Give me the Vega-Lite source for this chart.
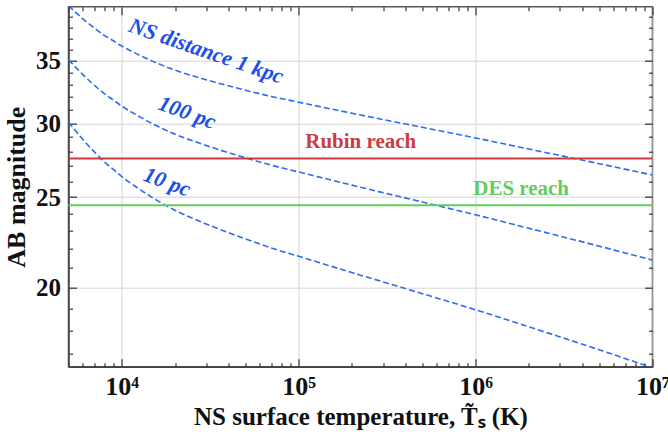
{
  "$schema": "https://vega.github.io/schema/vega-lite/v6.json",
  "width": 584,
  "height": 360,
  "autosize": "none",
  "padding": {"left": 68.5, "top": 6.7, "right": 15.7, "bottom": 71},
  "background": "white",
  "config": {
    "font": "Liberation Serif",
    "view": {"stroke": "#555", "strokeWidth": 1.5},
    "axis": {
      "labelFont": "Liberation Serif",
      "titleFont": "Liberation Serif",
      "labelFontWeight": "bold",
      "titleFontWeight": "bold",
      "labelColor": "#111",
      "titleColor": "#111",
      "domainColor": "#444",
      "domainWidth": 1.5,
      "tickColor": "#333",
      "tickWidth": 1.2,
      "gridColor": "#d4d4d4",
      "gridWidth": 1
    }
  },
  "datasets": {
    "curves": [
      {"T": 5000, "mag": 30.1, "dist": "10 pc"},
      {"T": 6000, "mag": 28.85, "dist": "10 pc"},
      {"T": 7000, "mag": 27.95, "dist": "10 pc"},
      {"T": 8000, "mag": 27.25, "dist": "10 pc"},
      {"T": 9000, "mag": 26.75, "dist": "10 pc"},
      {"T": 10000, "mag": 26.3, "dist": "10 pc"},
      {"T": 12000, "mag": 25.65, "dist": "10 pc"},
      {"T": 15000, "mag": 24.95, "dist": "10 pc"},
      {"T": 20000, "mag": 24.2, "dist": "10 pc"},
      {"T": 30000, "mag": 23.4, "dist": "10 pc"},
      {"T": 50000, "mag": 22.55, "dist": "10 pc"},
      {"T": 70000, "mag": 22.05, "dist": "10 pc"},
      {"T": 100000, "mag": 21.6, "dist": "10 pc"},
      {"T": 200000, "mag": 20.75, "dist": "10 pc"},
      {"T": 500000, "mag": 19.7, "dist": "10 pc"},
      {"T": 1000000, "mag": 18.93, "dist": "10 pc"},
      {"T": 2000000, "mag": 18.15, "dist": "10 pc"},
      {"T": 5000000, "mag": 17.15, "dist": "10 pc"},
      {"T": 10000000, "mag": 16.4, "dist": "10 pc"},
      {"T": 5000, "mag": 35.1, "dist": "100 pc"},
      {"T": 6000, "mag": 33.85, "dist": "100 pc"},
      {"T": 7000, "mag": 32.95, "dist": "100 pc"},
      {"T": 8000, "mag": 32.25, "dist": "100 pc"},
      {"T": 9000, "mag": 31.75, "dist": "100 pc"},
      {"T": 10000, "mag": 31.3, "dist": "100 pc"},
      {"T": 12000, "mag": 30.65, "dist": "100 pc"},
      {"T": 15000, "mag": 29.95, "dist": "100 pc"},
      {"T": 20000, "mag": 29.2, "dist": "100 pc"},
      {"T": 30000, "mag": 28.4, "dist": "100 pc"},
      {"T": 50000, "mag": 27.55, "dist": "100 pc"},
      {"T": 70000, "mag": 27.05, "dist": "100 pc"},
      {"T": 100000, "mag": 26.6, "dist": "100 pc"},
      {"T": 200000, "mag": 25.75, "dist": "100 pc"},
      {"T": 500000, "mag": 24.7, "dist": "100 pc"},
      {"T": 1000000, "mag": 23.93, "dist": "100 pc"},
      {"T": 2000000, "mag": 23.15, "dist": "100 pc"},
      {"T": 5000000, "mag": 22.15, "dist": "100 pc"},
      {"T": 10000000, "mag": 21.4, "dist": "100 pc"},
      {"T": 5000, "mag": 40.1, "dist": "1 kpc"},
      {"T": 6000, "mag": 38.85, "dist": "1 kpc"},
      {"T": 7000, "mag": 37.95, "dist": "1 kpc"},
      {"T": 8000, "mag": 37.25, "dist": "1 kpc"},
      {"T": 9000, "mag": 36.75, "dist": "1 kpc"},
      {"T": 10000, "mag": 36.3, "dist": "1 kpc"},
      {"T": 12000, "mag": 35.65, "dist": "1 kpc"},
      {"T": 15000, "mag": 34.95, "dist": "1 kpc"},
      {"T": 20000, "mag": 34.2, "dist": "1 kpc"},
      {"T": 30000, "mag": 33.4, "dist": "1 kpc"},
      {"T": 50000, "mag": 32.55, "dist": "1 kpc"},
      {"T": 70000, "mag": 32.05, "dist": "1 kpc"},
      {"T": 100000, "mag": 31.6, "dist": "1 kpc"},
      {"T": 200000, "mag": 30.75, "dist": "1 kpc"},
      {"T": 500000, "mag": 29.7, "dist": "1 kpc"},
      {"T": 1000000, "mag": 28.93, "dist": "1 kpc"},
      {"T": 2000000, "mag": 28.15, "dist": "1 kpc"},
      {"T": 5000000, "mag": 27.15, "dist": "1 kpc"},
      {"T": 10000000, "mag": 26.4, "dist": "1 kpc"}
    ],
    "reach": [
      {"survey": "Rubin", "mag": 27.5},
      {"survey": "DES", "mag": 24.5}
    ],
    "reachLabels": [
      {"label": "Rubin reach", "survey": "Rubin", "T": 109000, "mag": 28.25},
      {"label": "DES reach", "survey": "DES", "T": 970000, "mag": 25.15}
    ]
  },
  "layer": [
    {
      "data": {"name": "curves"},
      "mark": {"type": "line", "clip": true, "strokeDash": [6, 3], "strokeWidth": 1.6, "color": "#2c6cf0", "interpolate": "monotone"},
      "encoding": {
        "x": {
          "field": "T", "type": "quantitative",
          "scale": {"type": "log", "domain": [5000, 10000000], "nice": false},
          "axis": {
            "orient": "bottom",
            "title": "NS surface temperature, T̃ₛ (K)",
            "titleFontSize": 25,
            "titlePadding": 1,
            "labelFontSize": 26,
            "labelPadding": 15,
            "labelOverlap": false,
            "labelFlush": false,
            "labelBound": false,
            "values": [5000, 6000, 7000, 8000, 9000, 10000, 20000, 30000, 40000, 50000, 60000, 70000, 80000, 90000, 100000, 200000, 300000, 400000, 500000, 600000, 700000, 800000, 900000, 1000000, 2000000, 3000000, 4000000, 5000000, 6000000, 7000000, 8000000, 9000000, 10000000],
            "labelExpr": "datum.value == 10000 ? '10⁴' : datum.value == 100000 ? '10⁵' : datum.value == 1000000 ? '10⁶' : datum.value == 10000000 ? '10⁷' : ''",
            "tickSize": {"condition": {"test": "indexof([10000,100000,1000000,10000000], datum.value) >= 0", "value": -8}, "value": -4},
            "gridOpacity": {"condition": {"test": "indexof([10000,100000,1000000,10000000], datum.value) >= 0", "value": 1}, "value": 0},
            "grid": true
          }
        },
        "y": {
          "field": "mag", "type": "quantitative",
          "scale": {"type": "log", "domain": [16.45, 40], "nice": false, "zero": false},
          "axis": {
            "orient": "left",
            "title": "AB magnitude",
            "titleFontSize": 26,
            "titlePadding": 6,
            "labelFontSize": 25,
            "labelPadding": 16,
            "labelOverlap": false,
            "labelFlush": false,
            "labelBound": false,
            "values": [17, 18, 19, 20, 21, 22, 23, 24, 25, 26, 27, 28, 29, 30, 31, 32, 33, 34, 35, 36, 37, 38, 39],
            "labelExpr": "datum.value % 5 === 0 ? '' + datum.value : ''",
            "tickSize": {"condition": {"test": "datum.value % 5 === 0", "value": -8}, "value": -4},
            "gridOpacity": {"condition": {"test": "datum.value % 5 === 0", "value": 1}, "value": 0},
            "grid": true
          }
        },
        "detail": {"field": "dist"}
      }
    },
    {
      "data": {"name": "curves"},
      "mark": {"type": "line", "opacity": 0},
      "encoding": {
        "x": {
          "field": "T", "type": "quantitative",
          "axis": {
            "orient": "top", "title": null, "labels": false, "grid": false, "domain": false,
            "values": [5000, 6000, 7000, 8000, 9000, 10000, 20000, 30000, 40000, 50000, 60000, 70000, 80000, 90000, 100000, 200000, 300000, 400000, 500000, 600000, 700000, 800000, 900000, 1000000, 2000000, 3000000, 4000000, 5000000, 6000000, 7000000, 8000000, 9000000, 10000000],
            "tickSize": {"condition": {"test": "indexof([10000,100000,1000000,10000000], datum.value) >= 0", "value": -8}, "value": -4}
          }
        },
        "y": {
          "field": "mag", "type": "quantitative",
          "axis": {
            "orient": "right", "title": null, "labels": false, "grid": false, "domain": false,
            "values": [17, 18, 19, 20, 21, 22, 23, 24, 25, 26, 27, 28, 29, 30, 31, 32, 33, 34, 35, 36, 37, 38, 39],
            "tickSize": {"condition": {"test": "datum.value % 5 === 0", "value": -8}, "value": -4}
          }
        },
        "detail": {"field": "dist"}
      }
    },
    {
      "data": {"name": "reach"},
      "mark": {"type": "rule", "strokeWidth": 2},
      "encoding": {
        "y": {"field": "mag", "type": "quantitative", "axis": null},
        "color": {"field": "survey", "type": "nominal", "scale": {"domain": ["Rubin", "DES"], "range": ["#cc3b3e", "#63cc5c"]}, "legend": null}
      }
    },
    {
      "data": {"name": "reachLabels"},
      "mark": {"type": "text", "fontSize": 21, "fontWeight": "bold", "font": "Liberation Serif", "align": "left", "baseline": "alphabetic"},
      "encoding": {
        "x": {"field": "T", "type": "quantitative", "axis": null},
        "y": {"field": "mag", "type": "quantitative", "axis": null},
        "text": {"field": "label"},
        "color": {"field": "survey", "type": "nominal", "legend": null}
      }
    },
    {
      "data": {"values": [{"label": "NS distance 1 kpc", "T": 30050, "mag": 35.85}]},
      "mark": {"type": "text", "angle": 19, "fontSize": 22, "fontWeight": "bold", "fontStyle": "italic", "font": "Liberation Serif", "color": "#1c50ea", "align": "center", "baseline": "middle"},
      "encoding": {
        "x": {"field": "T", "type": "quantitative", "axis": null},
        "y": {"field": "mag", "type": "quantitative", "axis": null},
        "text": {"field": "label"}
      }
    },
    {
      "data": {"values": [{"label": "100 pc", "T": 23450, "mag": 30.8}]},
      "mark": {"type": "text", "angle": 20, "fontSize": 22, "fontWeight": "bold", "fontStyle": "italic", "font": "Liberation Serif", "color": "#1c50ea", "align": "center", "baseline": "middle"},
      "encoding": {
        "x": {"field": "T", "type": "quantitative", "axis": null},
        "y": {"field": "mag", "type": "quantitative", "axis": null},
        "text": {"field": "label"}
      }
    },
    {
      "data": {"values": [{"label": "10 pc", "T": 18080, "mag": 25.95}]},
      "mark": {"type": "text", "angle": 20, "fontSize": 22, "fontWeight": "bold", "fontStyle": "italic", "font": "Liberation Serif", "color": "#1c50ea", "align": "center", "baseline": "middle"},
      "encoding": {
        "x": {"field": "T", "type": "quantitative", "axis": null},
        "y": {"field": "mag", "type": "quantitative", "axis": null},
        "text": {"field": "label"}
      }
    }
  ],
  "resolve": {"axis": {"x": "independent", "y": "independent"}}
}
